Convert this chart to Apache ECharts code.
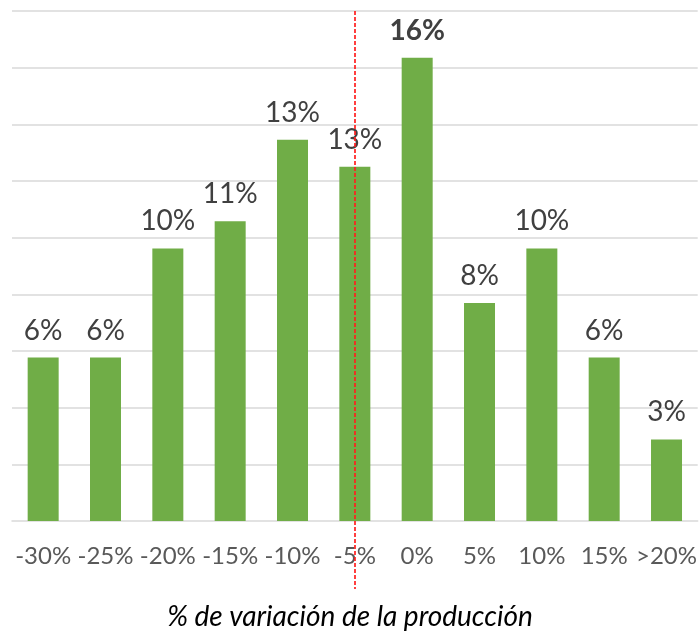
<!DOCTYPE html>
<html>
<head>
<meta charset="utf-8">
<script src="https://cdn.jsdelivr.net/npm/echarts@6/dist/echarts.min.js"></script>
<style>
  html, body { margin: 0; padding: 0; background: #fff; }
  #chart { width: 700px; height: 631px; }
</style>
</head>
<body>
<div id="chart"></div>
<script>
// categories on the x axis
const categories = ['-30%', '-25%', '-20%', '-15%', '-10%', '-5%', '0%', '5%', '10%', '15%', '>20%'];
// share of cases per class (%)
const shares = [5.77, 5.77, 9.62, 10.58, 13.46, 12.5, 16.35, 7.69, 9.62, 5.77, 2.88];
// horizontal gridlines (%)
const gridValues = [2, 4, 6, 8, 10, 12, 14, 16, 18];
// the reference (dashed) category
const refCategory = '-5%';

const FONT = 'Lato, "Noto Sans", sans-serif';
const peak = Math.max(...shares);
const yMin = -2.4;   // room under the baseline for the dashed line
const yMax = 18;

const chart = echarts.init(document.getElementById('chart'));

const gridTop = 11, gridBottom = 42;
const plotH = 631 - gridTop - gridBottom;
// lift the x axis from the grid edge up to the zero line
const axisLift = plotH * (0 - yMin) / (yMax - yMin);

const option = {
  animation: false,
  title: {
    text: '% de variación de la producción',
    left: 'center',
    top: 598,
    textStyle: {
      fontFamily: FONT,
      fontSize: 28,
      fontStyle: 'italic',
      fontWeight: 'normal',
      color: '#000'
    }
  },
  grid: { left: 12, right: 2, top: gridTop, bottom: gridBottom },
  xAxis: {
    type: 'category',
    data: categories,
    offset: -axisLift,
    axisTick: { show: false },
    axisLine: { onZero: false, lineStyle: { color: '#d9d9d9', width: 1.5 } },
    axisLabel: {
      margin: 23,
      fontFamily: FONT,
      fontSize: 24,
      color: '#595959',
      interval: 0
    }
  },
  yAxis: {
    type: 'value',
    min: yMin,
    max: yMax,
    show: false,
    splitLine: { show: false }
  },
  series: [
    {
      // gridlines, kept behind the bars
      type: 'line',
      data: [],
      silent: true,
      markLine: {
        z: 1,
        silent: true,
        symbol: ['none', 'none'],
        label: { show: false },
        lineStyle: { color: '#d9d9d9', width: 1.5, type: 'solid' },
        data: gridValues.map(v => ({ yAxis: v }))
      }
    },
    {
      type: 'bar',
      barWidth: 31,
      data: shares.map(v => ({
        value: v,
        label: v === peak ? { fontWeight: 'bold' } : undefined
      })),
      itemStyle: { color: '#70ad47' },
      label: {
        show: true,
        position: 'top',
        distance: 13,
        fontFamily: FONT,
        fontSize: 28,
        color: '#404040',
        formatter: p => Math.round(p.value) + '%'
      },
      markLine: {
        silent: true,
        symbol: ['none', 'none'],
        label: { show: false },
        lineStyle: { color: '#ff1f1f', width: 1.7, type: [4, 2] },
        data: [[
          { coord: [refCategory, yMax] },
          { coord: [refCategory, yMin] }
        ]]
      }
    }
  ]
};

chart.setOption(option);
</script>
</body>
</html>
